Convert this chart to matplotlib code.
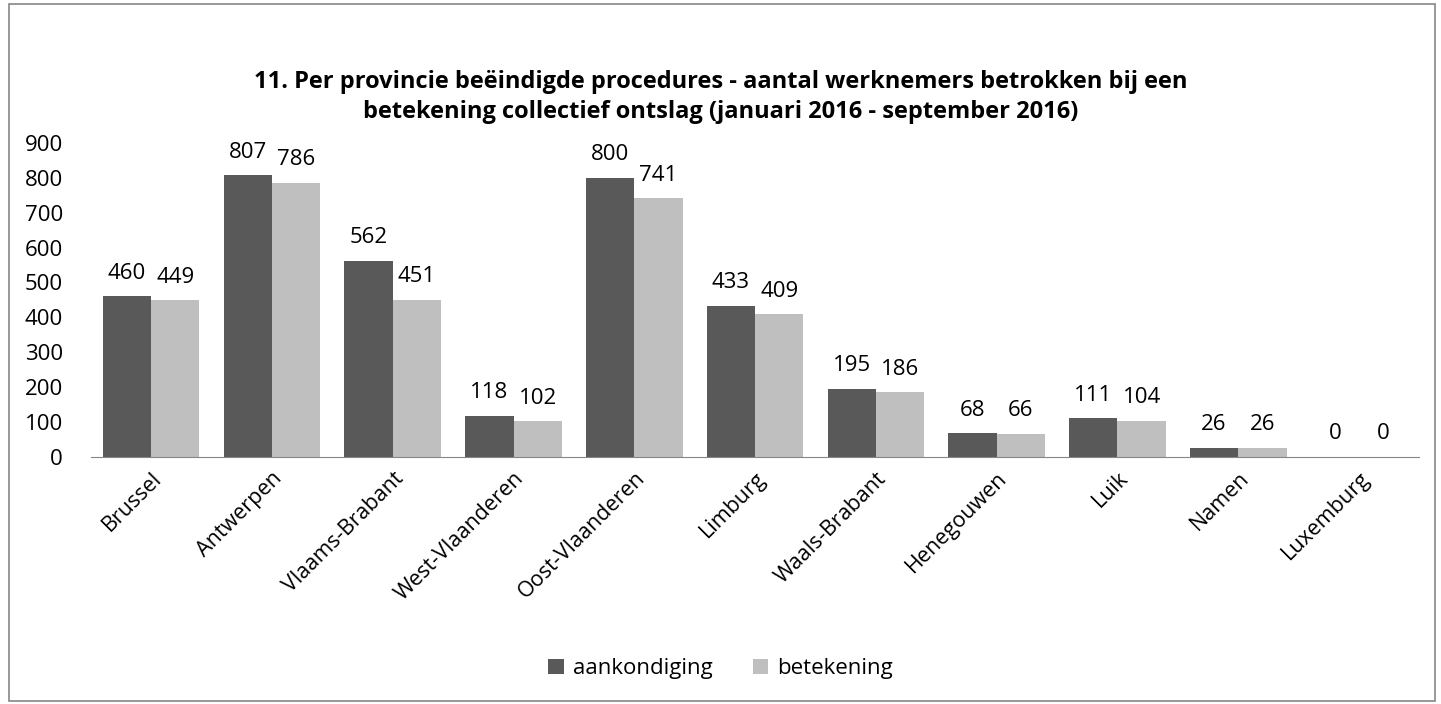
import matplotlib.pyplot as plt
import numpy as np
from matplotlib.patches import Rectangle

provinces = ["Brussel", "Antwerpen", "Vlaams-Brabant", "West-Vlaanderen",
             "Oost-Vlaanderen", "Limburg", "Waals-Brabant", "Henegouwen",
             "Luik", "Namen", "Luxemburg"]
aankondiging = [460, 807, 562, 118, 800, 433, 195, 68, 111, 26, 0]
betekening = [449, 786, 451, 102, 741, 409, 186, 66, 104, 26, 0]


def main() -> int:
    plt.rcParams["font.family"] = ["Open Sans", "DejaVu Sans"]

    fig = plt.figure(figsize=(14.41, 7.04), dpi=100)
    ax = fig.add_axes([0.063, 0.351, 0.922, 0.446])

    # outer chart frame
    fig.patches.append(Rectangle((0.006, 0.004), 0.99, 0.99, transform=fig.transFigure,
                                 fill=False, edgecolor="#868686", linewidth=1.2))

    x = np.arange(len(provinces))
    w = 0.4
    b1 = ax.bar(x - w / 2, aankondiging, w, color="#595959", label="aankondiging")
    b2 = ax.bar(x + w / 2, betekening, w, color="#BFBFBF", label="betekening")
    ax.bar_label(b1, padding=9, fontsize=16)
    ax.bar_label(b2, padding=9, fontsize=16)

    ax.set_xlim(-0.5, len(provinces) - 0.5)
    ax.set_ylim(0, 900)
    ax.set_yticks(range(0, 901, 100))
    ax.tick_params(axis="y", length=0, labelsize=16, pad=20)
    ax.set_xticks(x)
    ax.set_xticklabels(provinces, rotation=45, ha="right", rotation_mode="anchor",
                       fontsize=15.5)
    ax.tick_params(axis="x", length=0, pad=8)
    for s in ["top", "right", "left"]:
        ax.spines[s].set_visible(False)
    ax.spines["bottom"].set_color("#868686")

    fig.text(0.5, 0.862, "11. Per provincie beëindigde procedures - aantal werknemers betrokken bij een\n"
             "betekening collectief ontslag (januari 2016 - september 2016)",
             ha="center", va="center", fontsize=17, fontweight="bold", linespacing=1.3)

    fig.legend(loc="center", bbox_to_anchor=(0.5, 0.05), ncol=2, frameon=False,
               fontsize=16, handlelength=0.7, handleheight=0.7, columnspacing=1.8,
               handletextpad=0.4)

    fig.savefig("out.png", dpi=100)
    return 0


if __name__ == "__main__":
    main()
